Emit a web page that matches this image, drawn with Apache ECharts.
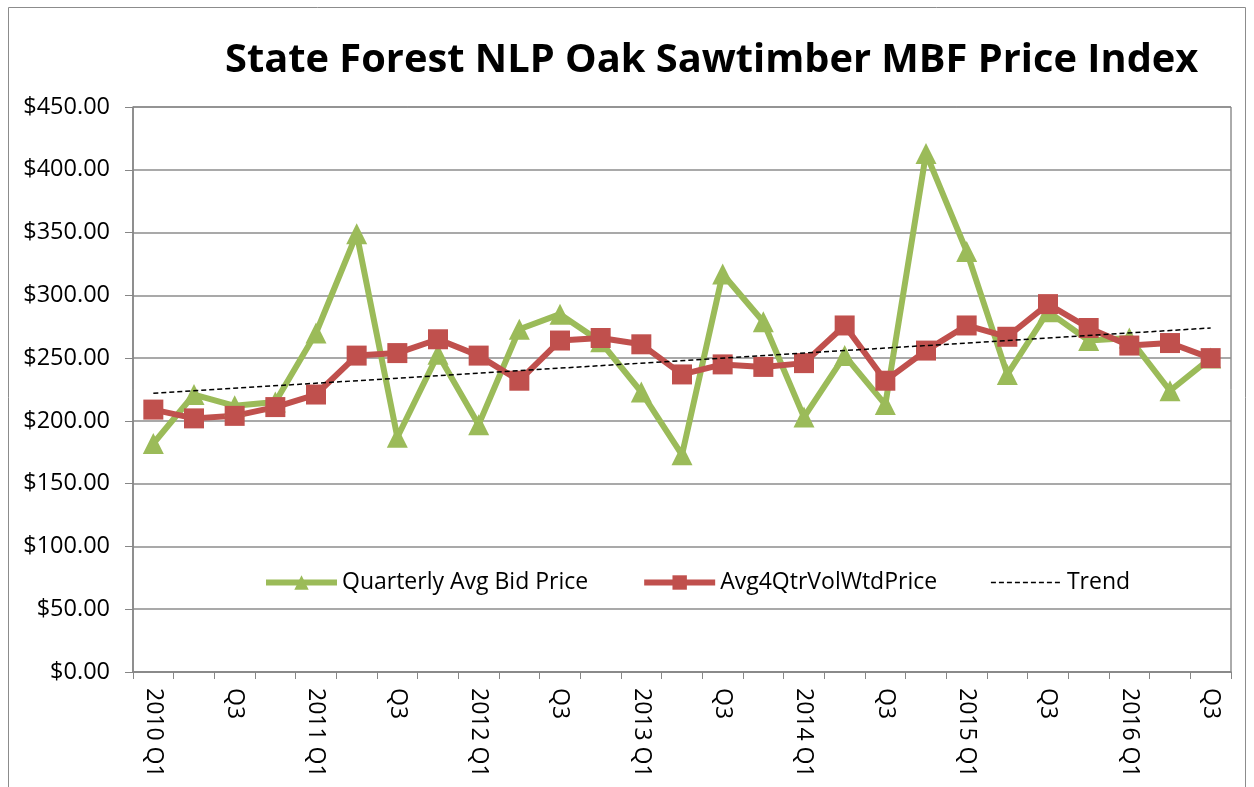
<!DOCTYPE html>
<html>
<head>
<meta charset="utf-8">
<script src="https://cdn.jsdelivr.net/npm/echarts@6/dist/echarts.min.js"></script>
<style>
  html, body { margin: 0; padding: 0; background: #fff; }
  #main { width: 1254px; height: 787px; }
</style>
</head>
<body>
<div id="main"></div>
<script>
// quarters 2010 Q1 .. 2016 Q3
const categories = [
  '2010 Q1', '2010 Q2', '2010 Q3', '2010 Q4',
  '2011 Q1', '2011 Q2', '2011 Q3', '2011 Q4',
  '2012 Q1', '2012 Q2', '2012 Q3', '2012 Q4',
  '2013 Q1', '2013 Q2', '2013 Q3', '2013 Q4',
  '2014 Q1', '2014 Q2', '2014 Q3', '2014 Q4',
  '2015 Q1', '2015 Q2', '2015 Q3', '2015 Q4',
  '2016 Q1', '2016 Q2', '2016 Q3'
]
const bidPrice = [
  182, 221, 212, 215, 270, 349, 187, 253,
  197, 273, 285, 263, 223, 173, 317, 279,
  203, 252, 213, 413, 335, 237, 287, 264,
  266, 224, 250
]
const volWtdPrice = [
  209, 202, 204, 211, 221, 252, 254, 265,
  252, 232, 264, 266, 261, 237, 245, 243,
  246, 276, 232, 256, 276, 267, 293, 274,
  260, 262, 250
]
// trend line end points (first and last quarter)
const trendStart = 222
const trendEnd = 274
const yTicks = { min: 0, max: 450, interval: 50 }

const font = '"Open Sans", "Noto Sans", sans-serif'

let chart = echarts.init(document.getElementById('main'), null, { renderer: 'canvas' })

let option = {
  animation: false,
  backgroundColor: '#fff',
  graphic: [{
    type: 'rect',
    shape: { x: 8.5, y: 7.5, width: 1237, height: 800 },
    style: { fill: 'none', stroke: '#8c8c8c', lineWidth: 1 },
    silent: true,
    z: -10
  }],
  title: {
    text: 'State Forest NLP Oak Sawtimber MBF Price Index',
    left: 225,
    top: 41,
    padding: 0,
    textStyle: { fontFamily: font, fontWeight: 'bold', fontSize: 39.8, color: '#000' }
  },
  legend: {
    left: 258,
    top: 566,
    itemWidth: 71,
    itemHeight: 18,
    itemGap: 53,
    textStyle: { fontFamily: font, fontSize: 23, color: '#000' },
    data: [
      { name: 'Quarterly Avg Bid Price', lineStyle: { width: 6 } },
      { name: 'Avg4QtrVolWtdPrice', lineStyle: { width: 6 } },
      { name: 'Trend', itemStyle: { color: 'rgba(0,0,0,0)', borderWidth: 0 }, lineStyle: { width: 1.5, type: [5, 3] } }
    ]
  },
  grid: {
    left: 133, right: 23, top: 107, bottom: 115,
    show: true, borderColor: '#595959', borderWidth: 1,
    containLabel: false
  },
  xAxis: {
    type: 'category',
    data: categories,
    boundaryGap: true,
    axisLine: { lineStyle: { color: '#868686', width: 1.5 } },
    axisTick: { show: true, interval: 0, length: 7, lineStyle: { color: '#868686' } },
    axisLabel: {
      interval: 1,
      rotate: -90,
      margin: 16,
      fontFamily: font,
      fontSize: 23,
      color: '#000',
      formatter: v => v.endsWith('Q1') ? v : v.slice(5)
    }
  },
  yAxis: {
    type: 'value',
    min: yTicks.min,
    max: yTicks.max,
    interval: yTicks.interval,
    axisLine: { show: true, lineStyle: { color: '#868686', width: 1.5 } },
    axisTick: { show: true, length: 8, lineStyle: { color: '#868686' } },
    splitLine: { lineStyle: { color: '#8c8c8c', width: 1.5 } },
    axisLabel: {
      margin: 23,
      fontFamily: font,
      fontSize: 23.5,
      color: '#000',
      formatter: v => '$' + v.toFixed(2)
    }
  },
  series: [
    {
      name: 'Quarterly Avg Bid Price',
      type: 'line',
      data: bidPrice,
      symbol: 'triangle',
      symbolSize: 21,
      color: '#9BBB59',
      lineStyle: { width: 6, color: '#9BBB59' },
      itemStyle: { color: '#9BBB59' }
    },
    {
      name: 'Avg4QtrVolWtdPrice',
      type: 'line',
      data: volWtdPrice,
      symbol: 'rect',
      symbolSize: 20,
      color: '#C0504D',
      lineStyle: { width: 6, color: '#C0504D' },
      itemStyle: { color: '#C0504D' }
    },
    {
      name: 'Trend',
      type: 'line',
      data: [[0, trendStart], [categories.length - 1, trendEnd]],
      symbol: 'none',
      color: '#000',
      lineStyle: { width: 1.5, color: '#000', type: [5, 3] },
      z: 5
    }
  ]
}

chart.setOption(option)
</script>
</body>
</html>
